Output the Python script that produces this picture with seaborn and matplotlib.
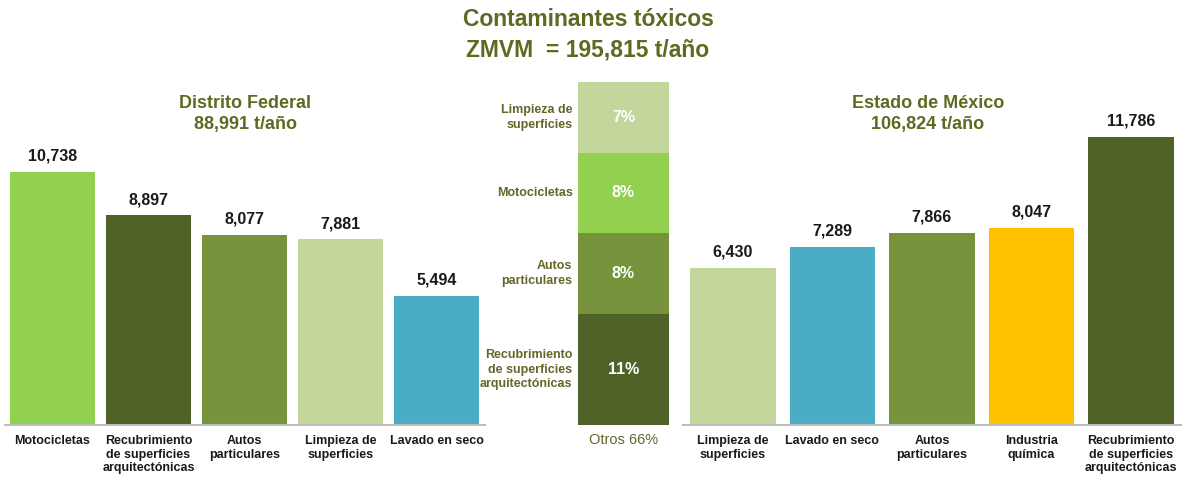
import numpy as np
import pandas as pd
import matplotlib.pyplot as plt
import seaborn as sns

# Distrito Federal
df_labels = ['Motocicletas', 'Recubrimiento\nde superficies\narquitectónicas',
             'Autos\nparticulares', 'Limpieza de\nsuperficies', 'Lavado en seco']
df_values = [10738, 8897, 8077, 7881, 5494]
df_colors = ['#92d050', '#4f6228', '#77933c', '#c3d69b', '#4bacc6']

# Estado de México
em_labels = ['Limpieza de\nsuperficies', 'Lavado en seco', 'Autos\nparticulares',
             'Industria\nquímica', 'Recubrimiento\nde superficies\narquitectónicas']
em_values = [6430, 7289, 7866, 8047, 11786]
em_colors = ['#c3d69b', '#4bacc6', '#77933c', '#ffc000', '#4f6228']

# ZMVM share (bottom to top)
mid_labels = ['Recubrimiento\nde superficies\narquitectónicas', 'Autos\nparticulares',
              'Motocicletas', 'Limpieza de\nsuperficies']
mid_pct = [11, 8, 8, 7]
mid_colors = ['#4f6228', '#77933c', '#92d050', '#c3d69b']
otros_label = 'Otros 66%'

title_lines = ['Contaminantes tóxicos', 'ZMVM  = 195,815 t/año']
df_title = ['Distrito Federal', '88,991 t/año']
em_title = ['Estado de México', '106,824 t/año']

sns.set_theme(style='white')
plt.rcParams['font.family'] = ['Liberation Sans', 'DejaVu Sans']

olive = '#5b6b1f'
label_olive = '#66652a'
W, H = 1182, 478
fig = plt.figure(figsize=(W / 100, H / 100), dpi=100)


def px_axes(x0, y0, x1, y1):
    return fig.add_axes([x0 / W, 1 - y1 / H, (x1 - x0) / W, (y1 - y0) / H])


def side_panel(ax, labels, values, colors, width, ymax):
    sns.barplot(x=labels, y=values, hue=labels, palette=colors, saturation=1,
                width=width, legend=False, linewidth=0, edgecolor='none', ax=ax)
    for c in ax.containers:
        ax.bar_label(c, fmt='{:,.0f}', padding=6, fontsize=11.5, fontweight='bold',
                     color='#1a1a1a', family=['Liberation Sans Narrow', 'Liberation Sans'])
    ax.set_ylim(0, ymax)
    ax.set_xlim(-0.5, len(values) - 0.5)
    ax.set_yticks([])
    ax.set_xlabel('')
    ax.set_ylabel('')
    for s in ['top', 'left', 'right']:
        ax.spines[s].set_visible(False)
    ax.spines['bottom'].set_color('#bfbfbf')
    ax.spines['bottom'].set_linewidth(1.5)
    ax.tick_params(axis='x', length=0, pad=7, labelsize=9, labelcolor='#1a1a1a')
    for t in ax.get_xticklabels():
        t.set_fontweight('bold')
    ax.set_facecolor('none')


ax_l = px_axes(4.5, 82, 484.5, 425)
side_panel(ax_l, df_labels, df_values, df_colors, 0.88, 14560)

ax_r = px_axes(683, 82, 1181, 425)
side_panel(ax_r, em_labels, em_values, em_colors, 0.86, 14034)

# center stacked bar
ax_c = px_axes(578, 82, 669, 425)
cum = np.cumsum(mid_pct)
for i in reversed(range(len(mid_pct))):
    sns.barplot(x=[otros_label], y=[cum[i]], color=mid_colors[i], saturation=1,
                width=1.0, linewidth=0, edgecolor='none', ax=ax_c)
for i, (lab, p) in enumerate(zip(mid_labels, mid_pct)):
    y = cum[i] - p / 2
    ax_c.text(0, y, f'{p}%', ha='center', va='center', color='white',
              fontsize=11.5, fontweight='bold')
    ax_c.text(-0.56, y, lab, ha='right', va='center', color=label_olive,
              fontsize=9, fontweight='bold', linespacing=1.3)
ax_c.set_ylim(0, cum[-1])
ax_c.set_xlim(-0.5, 0.5)
ax_c.set_yticks([])
ax_c.set_ylabel('')
sns.despine(ax=ax_c, left=True, bottom=True)
ax_c.tick_params(axis='x', length=0, pad=6, labelsize=10.5, labelcolor=label_olive)

# titles
fig.text(588 / W, 1 - 20 / H, title_lines[0], ha='center', va='center',
         fontsize=16.5, fontweight='bold', color=olive)
fig.text(588 / W, 1 - 50 / H, title_lines[1], ha='center', va='center',
         fontsize=16.5, fontweight='bold', color=olive)
fig.text(245 / W, 1 - 103 / H, df_title[0], ha='center', va='center',
         fontsize=13, fontweight='bold', color=olive)
fig.text(245 / W, 1 - 124 / H, df_title[1], ha='center', va='center',
         fontsize=13, fontweight='bold', color=olive)
fig.text(928 / W, 1 - 103 / H, em_title[0], ha='center', va='center',
         fontsize=13, fontweight='bold', color=olive)
fig.text(928 / W, 1 - 124 / H, em_title[1], ha='center', va='center',
         fontsize=13, fontweight='bold', color=olive)

fig.savefig('out.png', dpi=100)
